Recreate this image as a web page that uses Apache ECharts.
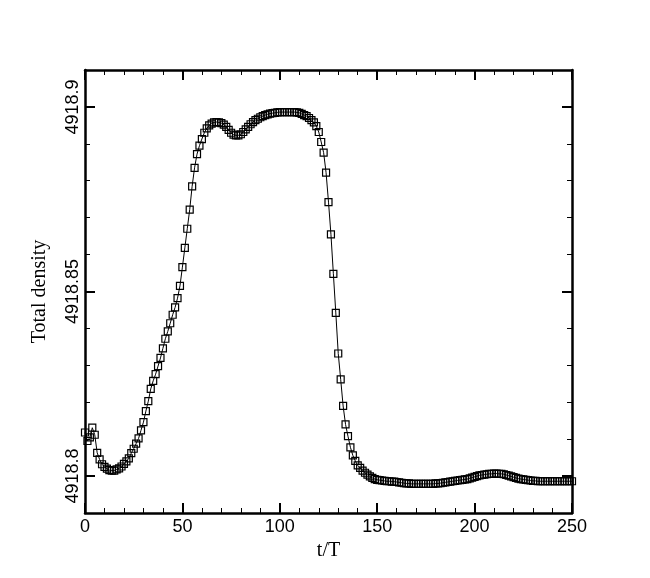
<!DOCTYPE html>
<html>
<head>
<meta charset="utf-8">
<script src="https://cdn.jsdelivr.net/npm/echarts@6/dist/echarts.min.js"></script>
<style>
  html, body { margin: 0; padding: 0; background: #fff; }
  #chart { width: 650px; height: 578px; }
</style>
</head>
<body>
<div id="chart"></div>
<script>
// sampled every 1.25 t/T, from t/T = 0 to 250
const sampleStep = 1.25;
const density = [
  4918.8118, 4918.8095, 4918.8105, 4918.8131, 4918.8112, 4918.8063, 4918.8045, 4918.8032,
  4918.8025, 4918.8020, 4918.8016, 4918.8015, 4918.8015, 4918.8018, 4918.8021, 4918.8026,
  4918.8033, 4918.8040, 4918.8048, 4918.8062, 4918.8074, 4918.8088, 4918.8102, 4918.8124,
  4918.8146, 4918.8176, 4918.8203, 4918.8236, 4918.8258, 4918.8276, 4918.8298, 4918.8320,
  4918.8346, 4918.8372, 4918.8392, 4918.8414, 4918.8437, 4918.8457, 4918.8482, 4918.8515,
  4918.8566, 4918.8618, 4918.8670, 4918.8722, 4918.8785, 4918.8835, 4918.8872, 4918.8895,
  4918.8913, 4918.8930, 4918.8942, 4918.8950, 4918.8955, 4918.8958, 4918.8959, 4918.8958,
  4918.8956, 4918.8952, 4918.8946, 4918.8938, 4918.8930, 4918.8925, 4918.8923, 4918.8923,
  4918.8926, 4918.8932, 4918.8939, 4918.8946, 4918.8953, 4918.8959, 4918.8964, 4918.8968,
  4918.8972, 4918.8975, 4918.8978, 4918.8980, 4918.8982, 4918.8983, 4918.8984, 4918.8985,
  4918.8986, 4918.8986, 4918.8986, 4918.8986, 4918.8986, 4918.8986, 4918.8986, 4918.8985,
  4918.8984, 4918.8981, 4918.8978, 4918.8975, 4918.8970, 4918.8964, 4918.8958, 4918.8948,
  4918.8932, 4918.8905, 4918.8876, 4918.8822, 4918.8742, 4918.8655, 4918.8548, 4918.8442,
  4918.8332, 4918.8262, 4918.8190, 4918.8140, 4918.8108, 4918.8078, 4918.8056, 4918.8041,
  4918.8029, 4918.8022, 4918.8015, 4918.8009, 4918.8004, 4918.7999, 4918.7995, 4918.7992,
  4918.7990, 4918.7989, 4918.7988, 4918.7987, 4918.7986, 4918.7986, 4918.7985, 4918.7985,
  4918.7984, 4918.7983, 4918.7982, 4918.7981, 4918.7980, 4918.7980, 4918.7979, 4918.7979,
  4918.7979, 4918.7979, 4918.7979, 4918.7979, 4918.7979, 4918.7979, 4918.7979, 4918.7979,
  4918.7980, 4918.7980, 4918.7981, 4918.7982, 4918.7983, 4918.7984, 4918.7985, 4918.7986,
  4918.7987, 4918.7988, 4918.7989, 4918.7990, 4918.7991, 4918.7992, 4918.7994, 4918.7996,
  4918.7998, 4918.8000, 4918.8002, 4918.8003, 4918.8004, 4918.8005, 4918.8006, 4918.8006,
  4918.8007, 4918.8007, 4918.8006, 4918.8006, 4918.8005, 4918.8003, 4918.8001, 4918.7999,
  4918.7997, 4918.7995, 4918.7993, 4918.7992, 4918.7991, 4918.7990, 4918.7989, 4918.7988,
  4918.7987, 4918.7987, 4918.7986, 4918.7986, 4918.7986, 4918.7986, 4918.7986, 4918.7986,
  4918.7986, 4918.7986, 4918.7986, 4918.7986, 4918.7986, 4918.7986, 4918.7986, 4918.7986,
  4918.7986
];
const xTicks = [0, 50, 100, 150, 200, 250];
const yMajorTicks = [4918.8, 4918.85, 4918.9];
const yMinorTicks = [4918.81, 4918.82, 4918.83, 4918.84, 4918.86, 4918.87, 4918.88, 4918.89];
const xRange = [0, 250];
const yRange = [4918.79, 4918.91];

const points = density.map((v, i) => [i * sampleStep, v]);

const chart = echarts.init(document.getElementById('chart'), null, { renderer: 'canvas' });

function xAxisAt(position, withLabels) {
    return {
        type: 'value',
        position: position,
        min: xRange[0],
        max: xRange[1],
        interval: 50,
        name: withLabels ? 't/T' : '',
        nameLocation: 'middle',
        nameGap: 18,
        nameTextStyle: { fontFamily: 'Liberation Serif', fontSize: 20, color: '#000' },
        axisLine: { onZero: false, lineStyle: { color: '#000', width: 2.5 } },
        axisTick: { inside: true, length: 10, lineStyle: { color: '#000', width: 2 } },
        minorTick: { show: true, splitNumber: 5, length: 5, lineStyle: { color: '#000', width: 1 } },
        axisLabel: {
            show: withLabels,
            margin: 5,
            fontFamily: 'Liberation Sans',
            fontSize: 18,
            color: '#000',
            customValues: xTicks
        },
        splitLine: { show: false }
    };
}

function yAxisAt(position, ticks, tickLen, tickWidth, withLabels) {
    return {
        type: 'value',
        position: position,
        min: yRange[0],
        max: yRange[1],
        name: withLabels ? 'Total density' : '',
        nameLocation: 'middle',
        nameGap: 35,
        nameTextStyle: { fontFamily: 'Liberation Serif', fontSize: 20, color: '#000' },
        axisLine: { show: tickLen > 6, onZero: false, lineStyle: { color: '#000', width: 2.5 } },
        axisTick: {
            inside: true,
            length: tickLen,
            customValues: ticks,
            lineStyle: { color: '#000', width: tickWidth }
        },
        axisLabel: {
            show: withLabels,
            rotate: 90,
            margin: 3,
            fontFamily: 'Liberation Sans',
            fontSize: 18,
            color: '#000',
            customValues: yMajorTicks,
            formatter: v => v.toFixed(2).replace(/0$/, '')
        },
        splitLine: { show: false }
    };
}

const option = {
    animation: false,
    backgroundColor: '#fff',
    grid: { left: 85, top: 70, right: 78, bottom: 65, containLabel: false },
    xAxis: [xAxisAt('bottom', true), xAxisAt('top', false)],
    yAxis: [
        yAxisAt('left', yMajorTicks, 10, 2, true),
        yAxisAt('right', yMajorTicks, 10, 2, false),
        yAxisAt('left', yMinorTicks, 5, 1, false),
        yAxisAt('right', yMinorTicks, 5, 1, false)
    ],
    series: [{
        type: 'line',
        xAxisIndex: 0,
        yAxisIndex: 0,
        data: points,
        symbol: 'rect',
        symbolSize: 7,
        showAllSymbol: true,
        lineStyle: { color: '#000', width: 1 },
        itemStyle: { color: 'rgba(0,0,0,0)', borderColor: '#000', borderWidth: 1.2 }
    }]
};
chart.setOption(option);
</script>
</body>
</html>
